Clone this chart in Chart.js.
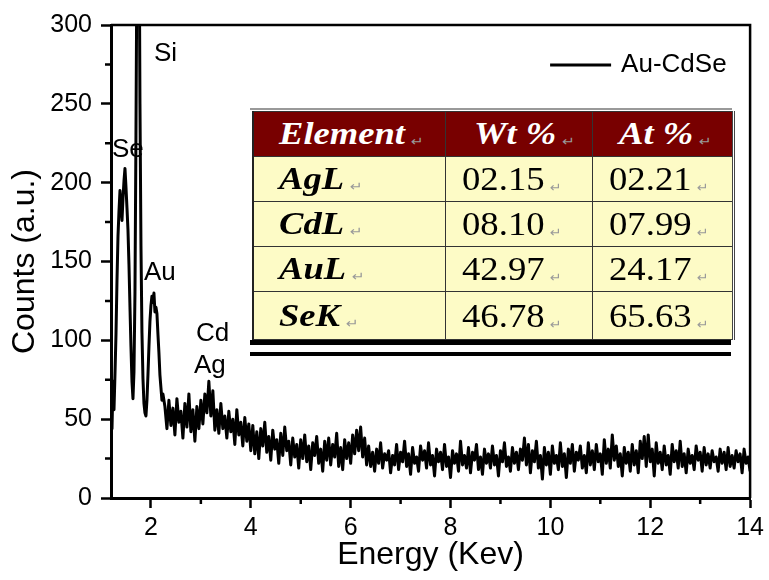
<!DOCTYPE html>
<html>
<head>
<meta charset="utf-8">
<title>EDS spectrum Au-CdSe</title>
<script src="https://cdn.jsdelivr.net/npm/chart.js@4.4.1/dist/chart.umd.min.js"></script>
<style>
  body { margin: 0; background: #fff; }
  #wrap { position: relative; width: 769px; height: 580px; }
  #tableBox { position: absolute; left: 250px; top: 108px; width: 482px; }
  #tableBox .topRule { height: 0; border-top: 2px solid #999; margin-bottom: 1px; }
  #comp { border-collapse: collapse; table-layout: fixed; width: 480px; margin-left: 2px;
          border-left: 2px solid #222; border-right: 3px double #444; }
  #comp th, #comp td { border: 1.5px solid #333; padding: 0; text-align: left; vertical-align: middle;
          font-family: "Liberation Serif", "Times New Roman", serif; white-space: nowrap; overflow: visible; }
  #comp th { background: #780000; color: #fff; height: 44px; font-size: 31px; font-weight: bold; font-style: italic; }
  #comp td { height: 44px; color: #000; background-color: #fdfbc6; }
  #comp td.el { font-size: 31px; font-weight: bold; font-style: italic; }
  #comp td.num { font-size: 34px; }
  #comp tr:last-child td { height: 47px; }
  .stretch { display: inline-block; transform-origin: left center; }
  th .stretch, td.el .stretch { transform: scaleX(1.18); }
  td.num .stretch { transform: scaleX(1.08); }
  .pm { font-family: "DejaVu Sans", sans-serif; font-size: 13px; color: #999; font-style: normal; font-weight: normal;
        margin-left: 5px; vertical-align: -2px; }
  .rule1 { height: 5px; background: #000; margin-top: 0; width: 481px; }
  .rule2 { height: 4px; background: #000; margin-top: 7px; width: 481px; }
</style>
</head>
<body>
<div id="wrap">
  <canvas id="eds" width="769" height="580"></canvas>
  <div id="tableBox">
    <div class="topRule"></div>
    <table id="comp"></table>
    <div class="rule1"></div>
    <div class="rule2"></div>
  </div>
</div>
<script>
// spectrum: peak region at 0.02 keV, background at 0.04 keV
const peakStart = 1.20;
const peakStep = 0.02;
const peakCounts = [
  47, 44, 74, 56, 79, 104, 138, 166, 182, 195,
  186, 176, 190, 201, 209, 197, 184, 170, 148, 121,
  96, 74, 63, 80, 130, 230, 350, 430, 390, 250,
  160, 105, 76, 60, 54, 52, 62, 78, 96, 112,
  122, 128, 124, 130, 118, 121, 117, 104, 92, 78,
  70, 62, 66
];
const bgStart = 2.28;
const bgStep = 0.04;
const bgCounts = [
  58, 44, 62, 46, 57, 40, 63, 48, 55, 38, 60, 45, 66, 42, 56, 36, 58, 44, 62,
  47, 66, 54, 74, 52, 68, 43,
  56, 41, 60, 44, 52, 38, 55, 42, 50, 34, 56, 40, 48, 33, 51, 36, 47,
  30, 46, 28, 42, 25, 44, 33, 48, 29, 39, 24, 43, 31, 37, 22, 41, 27, 45, 30,
  36, 21, 38, 26, 34, 19, 37, 25, 40, 23, 33, 18, 35, 27, 39, 22, 31, 17, 36, 24, 38, 21, 34, 26, 41, 20, 32, 18, 37, 25, 35,
  22, 40, 28, 43, 30, 45, 26, 38, 21,
  33, 20, 29, 17, 31, 22, 35, 19, 28, 24,
  30, 16, 27, 21, 34, 18, 29, 23, 36, 20,
  28, 15, 32, 22, 26, 17, 33, 24, 30, 19,
  35, 21, 27, 14, 31, 23, 29, 18, 34, 20,
  26, 13, 30, 22, 28, 17, 36, 21, 27, 19,
  32, 16, 29, 24, 34, 18, 26, 15, 31, 22,
  28, 19, 33, 21, 27, 14, 30, 23, 35, 20,
  26, 17, 32, 22, 29, 18, 31, 24, 38, 21,
  34, 16, 30, 23, 36, 19, 27, 12, 32, 21,
  29, 15, 33, 22, 27, 18, 35, 20, 28, 13,
  31, 22, 34, 17, 29, 24, 33, 19, 27, 16,
  35, 21, 30, 18, 34, 23, 28, 15, 37, 22,
  31, 19, 40, 24, 33, 20, 28, 14, 32, 22,
  29, 17, 34, 21, 30, 16, 36, 25, 39, 20,
  40, 23, 31, 14, 35, 22, 29, 18, 33, 21,
  27, 15, 34, 23, 30, 19, 36, 20, 28, 16,
  31, 22, 27, 18, 33, 24, 29, 17, 32, 21,
  28, 19, 30, 23, 26, 17, 31, 22, 29, 18,
  32, 20, 27, 19, 30, 23, 28, 16, 31, 22,
  26, 17
];

const xTickValues = [2, 4, 6, 8, 10, 12, 14];
const xMinorValues = [3, 5, 7, 9, 11, 13];
const yTickValues = [0, 50, 100, 150, 200, 250, 300];
const yMinorValues = [25, 75, 125, 175, 225, 275];

// peak names and where they sit (keV, counts)
const peakNames = ['Si', 'Se', 'Au', 'Cd', 'Ag'];
const peakNameE = [2.06, 1.22, 1.86, 2.90, 2.86];
const peakNameC = [282, 221, 143, 104, 84];

// composition table
const tableHead = ['Element', 'Wt %', 'At %'];
const elements = ['AgL', 'CdL', 'AuL', 'SeK'];
const wtPct = ['02.15', '08.10', '42.97', '46.78'];
const atPct = ['02.21', '07.99', '24.17', '65.63'];

const FONT = 'Arial, "Liberation Sans", sans-serif';

const points = [];
peakCounts.forEach((c, i) => points.push({ x: +(peakStart + i * peakStep).toFixed(2), y: c }));
bgCounts.forEach((c, i) => points.push({ x: +(bgStart + i * bgStep).toFixed(2), y: c }));

// table
(function buildTable() {
  const tbl = document.getElementById('comp');
  const pads = [[25, 28, 26], [25, 16, 16]];
  const cell = (tag, cls, text, pad) =>
    `<${tag}${cls ? ` class="${cls}"` : ''} style="padding-left:${pad}px"><span class="stretch">${text}<span class="pm">\u21B5</span></span></${tag}>`;
  let html = '<colgroup><col style="width:192px"><col style="width:147px"><col style="width:141px"></colgroup>';
  html += '<tr>' + tableHead.map((h, i) => cell('th', '', h, pads[0][i])).join('') + '</tr>';
  elements.forEach((el, r) => {
    html += '<tr>' + cell('td', 'el', el, pads[1][0]) + cell('td', 'num', wtPct[r], pads[1][1]) + cell('td', 'num', atPct[r], pads[1][2]) + '</tr>';
  });
  tbl.innerHTML = html;
})();

const extras = {
  id: 'extras',
  afterDraw(chart) {
    const { ctx, chartArea: a, scales: { x, y } } = chart;
    ctx.save();
    ctx.strokeStyle = '#000';
    ctx.lineWidth = 2.5;
    // frame top + right
    ctx.beginPath();
    ctx.moveTo(a.left, a.top);
    ctx.lineTo(a.right, a.top);
    ctx.lineTo(a.right, a.bottom);
    ctx.stroke();
    // minor ticks
    ctx.beginPath();
    xMinorValues.forEach(v => {
      const px = x.getPixelForValue(v);
      ctx.moveTo(px, a.bottom); ctx.lineTo(px, a.bottom + 6);
    });
    yMinorValues.forEach(v => {
      const py = y.getPixelForValue(v);
      ctx.moveTo(a.left, py); ctx.lineTo(a.left - 6, py);
    });
    ctx.stroke();
    // peak names
    ctx.fillStyle = '#000';
    ctx.font = '26px ' + FONT;
    ctx.textAlign = 'left';
    ctx.textBaseline = 'middle';
    peakNames.forEach((n, i) => ctx.fillText(n, x.getPixelForValue(peakNameE[i]), y.getPixelForValue(peakNameC[i])));
    // legend
    const lx = a.right - 200, ly = a.top + 40;
    ctx.lineWidth = 3;
    ctx.beginPath();
    ctx.moveTo(lx, ly); ctx.lineTo(lx + 61, ly);
    ctx.stroke();
    ctx.fillText('Au-CdSe', lx + 71, ly);
    ctx.restore();
  }
};

new Chart(document.getElementById('eds'), {
  type: 'line',
  data: {
    datasets: [{
      label: 'Au-CdSe',
      data: points,
      borderColor: '#000',
      borderWidth: 3,
      borderJoinStyle: 'round',
      pointRadius: 0,
      tension: 0,
      fill: false
    }]
  },
  options: {
    responsive: false,
    animation: false,
    layout: { padding: { top: 25, right: 17, left: 0, bottom: 0 } },
    plugins: { legend: { display: false }, tooltip: { enabled: false } },
    scales: {
      x: {
        type: 'linear',
        min: 1.2,
        max: 14,
        afterBuildTicks: s => { s.ticks = xTickValues.map(v => ({ value: v })); },
        afterFit: s => { s.height = 82; },
        ticks: { color: '#000', font: { size: 25, family: FONT }, padding: 5, maxRotation: 0, autoSkip: false },
        grid: { drawOnChartArea: false, tickLength: 10, tickWidth: 2.5, tickColor: '#000' },
        border: { display: true, color: '#000', width: 3 },
        title: { display: true, text: 'Energy (Kev)', color: '#000', font: { size: 32, family: FONT }, padding: { top: 0, bottom: 6 } }
      },
      y: {
        type: 'linear',
        min: 0,
        max: 300,
        afterBuildTicks: s => { s.ticks = yTickValues.map(v => ({ value: v })); },
        afterFit: s => { s.width = 111; },
        ticks: { color: '#000', font: { size: 25, family: FONT }, padding: 9 },
        grid: { drawOnChartArea: false, tickLength: 10, tickWidth: 2.5, tickColor: '#000' },
        border: { display: true, color: '#000', width: 3 },
        title: { display: true, text: 'Counts (a.u.)', color: '#000', font: { size: 32, family: FONT }, padding: { top: 6, bottom: 0 } }
      }
    }
  },
  plugins: [extras]
});
</script>
</body>
</html>
